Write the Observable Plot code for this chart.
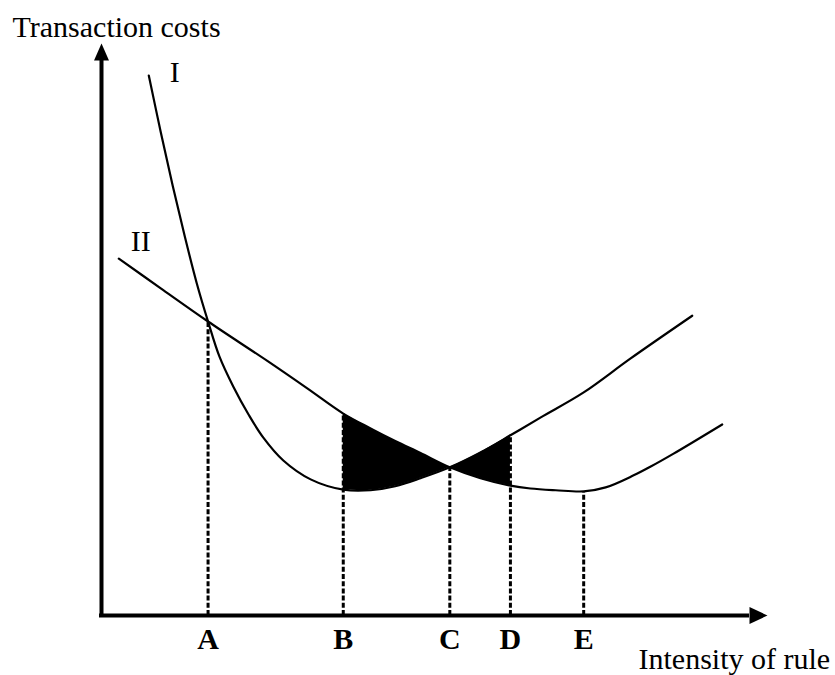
<!DOCTYPE html>
<html>
<head>
<meta charset="utf-8">
<script src="https://cdn.jsdelivr.net/npm/d3@7"></script>
<script src="https://cdn.jsdelivr.net/npm/@observablehq/plot@0.6"></script>
<style>
  html, body { margin: 0; padding: 0; background: #fff; }
</style>
</head>
<body>
<div id="chart"></div>
<script>
// ---- data (schematic units: intensity 0-100, cost 0-100) ----
const curveI_x = [7.1, 8.9, 10.7, 12.5, 14.3, 16.0, 17.7, 19.8, 22.1, 24.3, 27.3, 31.4, 36.3, 40.4, 44.1, 47.9, 52.3, 56.9, 61.4, 65.9, 72.4, 79.4, 88.7];
const curveI_y = [94.4, 84.5, 75.1, 66.3, 58.1, 51.4, 45.3, 40.0, 35.1, 31.1, 27.1, 23.8, 22.0, 21.9, 22.6, 24.0, 25.9, 28.5, 31.5, 34.6, 39.0, 44.9, 52.4];

const curveII_x = [2.6, 8.9, 16.0, 24.9, 30.9, 36.3, 40.4, 44.1, 47.9, 52.3, 56.9, 61.4, 64.4, 68.2, 72.4, 75.7, 79.9, 82.4, 85.9, 93.2];
const curveII_y = [62.4, 57.2, 51.4, 44.5, 39.7, 35.3, 32.7, 30.5, 28.4, 25.9, 24.0, 22.7, 22.2, 21.9, 21.7, 22.4, 24.5, 26.0, 28.3, 33.4];

const markerLabels = ["A", "B", "C", "D", "E"];
const markerX = [16.0, 36.3, 52.3, 61.4, 72.4];
const markerTop = [51.4, 35.3, 25.9, 31.5, 21.7];

const curveLabels = ["I", "II"];
const yTitle = "Transaction costs";
const xTitle = "Intensity of rule";

// shaded region between the curves from B to D (shared x samples)
const shadeFrom = markerX[1], shadeTo = markerX[3];
const shade = [];
curveI_x.forEach((x, i) => {
  if (x >= shadeFrom && x <= shadeTo) {
    const j = curveII_x.indexOf(x);
    if (j >= 0) shade.push({x, a: curveI_y[i], b: curveII_y[j]});
  }
});

const lineI = curveI_x.map((x, i) => ({x, y: curveI_y[i]}));
const lineII = curveII_x.map((x, i) => ({x, y: curveII_y[i]}));
const markers = markerLabels.map((label, i) => ({label, x: markerX[i], top: markerTop[i]}));

// arrowhead symbols with the tip at the anchor point
const arrowUp = {draw(ctx) { ctx.moveTo(0, 0); ctx.lineTo(-7.5, 17); ctx.lineTo(7.5, 17); ctx.closePath(); }};
const arrowRight = {draw(ctx) { ctx.moveTo(0, 0); ctx.lineTo(-18, -8.5); ctx.lineTo(-18, 8.5); ctx.closePath(); }};

const font = "'Liberation Serif', 'Times New Roman', serif";

const chart = Plot.plot({
  width: 835,
  height: 675,
  marginLeft: 101,
  marginRight: 68,
  marginTop: 43,
  marginBottom: 60,
  x: {domain: [0, 100], axis: null},
  y: {domain: [0, 100], axis: null},
  style: {fontFamily: font, background: "#fff", color: "#000"},
  marks: [
    // shaded areas
    Plot.areaY(shade, {x: "x", y1: "a", y2: "b", curve: "catmull-rom", fill: "#000"}),
    // dashed guide lines
    Plot.ruleX(markers, {x: "x", y1: 0, y2: "top", stroke: "#000", strokeWidth: 3, strokeDasharray: "5,2.2"}),
    // curves
    Plot.line(lineI, {x: "x", y: "y", curve: "catmull-rom", stroke: "#000", strokeWidth: 2.2}),
    Plot.line(lineII, {x: "x", y: "y", curve: "catmull-rom", stroke: "#000", strokeWidth: 2.2}),
    // axes
    Plot.ruleY([0], {x1: 0, x2: 97, stroke: "#000", strokeWidth: 4, strokeLinecap: "square"}),
    Plot.ruleX([0], {y1: 0, y2: 97, stroke: "#000", strokeWidth: 4, strokeLinecap: "square"}),
    Plot.dot([0], {x: () => 100, y: () => 0, symbol: arrowRight, fill: "#000", stroke: "none", r: 7}),
    Plot.dot([0], {x: () => 0, y: () => 100, symbol: arrowUp, fill: "#000", stroke: "none", r: 7}),
    // curve labels
    Plot.text([lineI[0]], {x: "x", y: "y", text: () => curveLabels[0], dx: 26, dy: -3, fontSize: 30, fill: "#000"}),
    Plot.text([lineII[0]], {x: "x", y: "y", text: () => curveLabels[1], dx: 22, dy: -17, fontSize: 30, fill: "#000"}),
    // marker letters
    Plot.text(markers, {x: "x", y: () => 0, text: "label", dy: 23.5, fontSize: 30, fontWeight: "bold", fill: "#000"}),
    // axis titles
    Plot.text([yTitle], {x: () => 0, y: () => 100, text: d => d, dx: -89, dy: -16.6, textAnchor: "start", fontSize: 30, fill: "#000"}),
    Plot.text([xTitle], {x: () => 100, y: () => 0, text: d => d, dx: -129, dy: 43.5, textAnchor: "start", fontSize: 30, fill: "#000"})
  ]
});
document.getElementById("chart").appendChild(chart);
</script>
</body>
</html>
